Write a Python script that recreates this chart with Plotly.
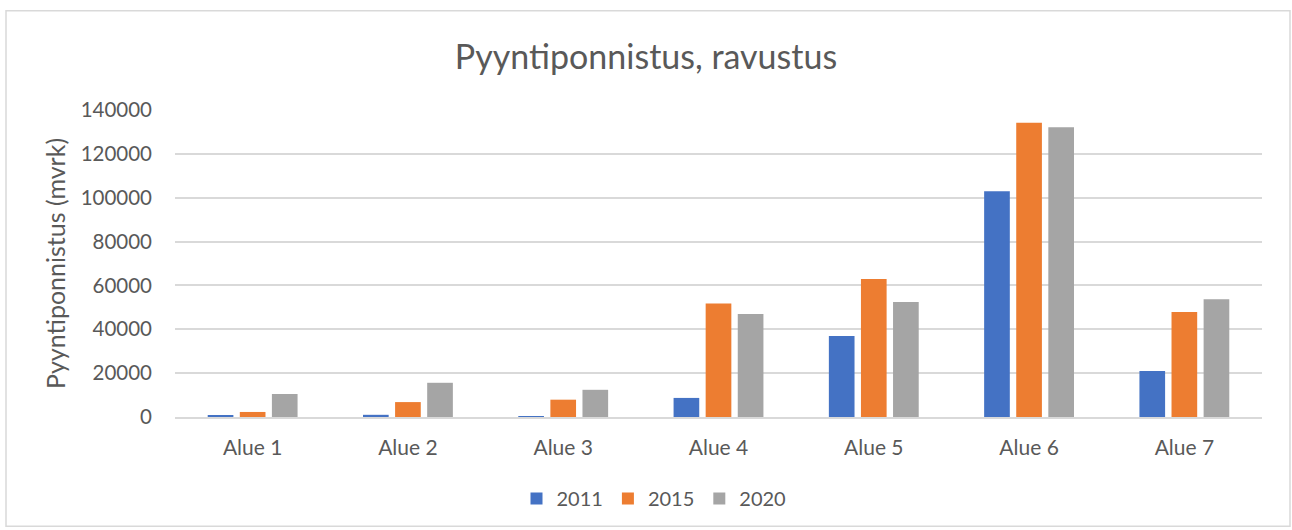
import plotly.graph_objects as go

categories = ["Alue 1", "Alue 2", "Alue 3", "Alue 4", "Alue 5", "Alue 6", "Alue 7"]
series_names = ["2011", "2015", "2020"]
v2011 = [500, 1000, 100, 8700, 36900, 103000, 21000]
v2015 = [2300, 6800, 7900, 51800, 62900, 134200, 47900]
v2020 = [10500, 15600, 12400, 47000, 52400, 132100, 53700]
colors = ["#4472C4", "#ED7D31", "#A5A5A5"]
y_ticks = [0, 20000, 40000, 60000, 80000, 100000, 120000, 140000]

FONT = "Lato"
TXT = "#595959"

fig = go.Figure()
for name, vals, col in zip(series_names, [v2011, v2015, v2020], colors):
    fig.add_trace(go.Bar(name=name, x=categories, y=vals, marker=dict(color=col, line=dict(width=0))))

W, H = 1292, 530
L, R, T, B = 175, 30, 110, 111
pw, ph = W - L - R, H - T - B

def px_x(p):
    return (p - L) / pw

def px_y(p):
    return (H - B - p) / ph

fig.update_layout(
    width=W, height=H,
    margin=dict(l=L, r=R, t=T, b=B),
    paper_bgcolor="white", plot_bgcolor="white",
    font=dict(family=FONT, color=TXT, size=20),
    barmode="group", bargap=0.38, bargroupgap=0.2,
    title=dict(text="Pyyntiponnistus, ravustus", x=0.5, xanchor="center", y=1 - 57 / H, yanchor="middle",
               font=dict(family=FONT, size=34, color=TXT)),
    legend=dict(orientation="h", x=px_x(654), xanchor="center", y=px_y(501), yanchor="middle",
                font=dict(size=20, color=TXT), traceorder="normal", itemwidth=30),
    xaxis=dict(showgrid=False, showline=True, linecolor="#D9D9D9", linewidth=1.5,
               ticks="", ticklabelstandoff=11, tickfont=dict(size=21, color=TXT)),
    yaxis=dict(range=[0, 140000], tickvals=y_ticks, tickformat="d", showgrid=True,
               gridcolor="#D9D9D9", gridwidth=1.5, zeroline=False, showline=False, ticks="",
               ticklabelstandoff=22, tickfont=dict(size=20.5, color=TXT),
               title=dict(text="Pyyntiponnistus (mvrk)", font=dict(size=25, color=TXT), standoff=7)),
    showlegend=True,
)

fig.add_shape(type="rect", xref="paper", yref="paper",
              x0=px_x(6), x1=px_x(1290), y0=px_y(529), y1=px_y(10),
              line=dict(color="#D9D9D9", width=1.5), fillcolor="rgba(0,0,0,0)", layer="below")

fig.write_html("out.html", config={"displayModeBar": False},
               post_script="document.body.style.margin='0';document.body.style.overflow='hidden';")
